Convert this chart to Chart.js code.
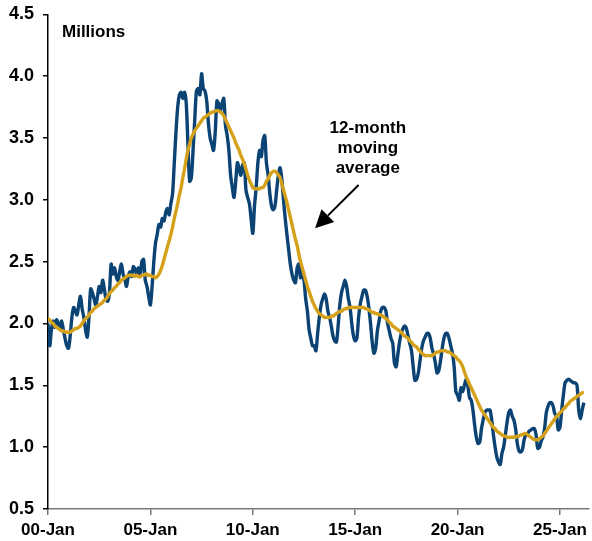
<!DOCTYPE html>
<html>
<head>
<meta charset="utf-8">
<script src="https://cdn.jsdelivr.net/npm/chart.js@4.4.0/dist/chart.umd.min.js"></script>
<style>
  html, body { margin: 0; padding: 0; background: #fff; }
  #wrap { width: 592px; height: 541px; position: relative; }
</style>
</head>
<body>
<div id="wrap"><canvas id="chart"></canvas></div>
<script>
// monthly values, millions, starting Jan 2000
const stock = [
  2.0, 1.82, 1.95, 2.02, 1.97, 2.03, 2.0, 1.96, 2.02, 1.95, 1.88, 1.82,
  1.8, 1.9, 2.05, 2.13, 2.1, 2.07, 2.15, 2.22, 2.12, 2.05, 1.95, 1.89,
  2.05, 2.28, 2.25, 2.2, 2.15, 2.22, 2.3, 2.25, 2.35, 2.28, 2.2, 2.18,
  2.25, 2.48, 2.4, 2.45, 2.38, 2.35, 2.42, 2.48, 2.4, 2.36, 2.3, 2.38,
  2.42, 2.38, 2.46, 2.44, 2.4, 2.45, 2.38, 2.5, 2.52, 2.35, 2.3, 2.22,
  2.15, 2.3, 2.5, 2.65, 2.72, 2.8, 2.78, 2.85, 2.83, 2.9, 2.93, 2.88,
  2.97, 3.05, 3.3, 3.55, 3.75, 3.85, 3.87, 3.82, 3.87, 3.78, 3.45, 3.15,
  3.18, 3.4, 3.65, 3.88, 3.9, 3.85, 4.02, 3.9, 3.88, 3.8, 3.62, 3.5,
  3.45, 3.4, 3.55, 3.8, 3.78, 3.72, 3.78, 3.82, 3.6, 3.52, 3.4, 3.2,
  3.1, 3.02, 3.15, 3.3, 3.25, 3.2, 3.28, 3.3, 3.08, 3.02, 2.97, 2.85,
  2.73, 2.95, 3.1, 3.3, 3.4, 3.35, 3.48, 3.52, 3.3, 3.2, 3.05, 2.95,
  2.92, 2.95, 3.08, 3.2, 3.26, 3.17, 3.0, 2.85, 2.72, 2.6, 2.48, 2.4,
  2.35, 2.33, 2.45, 2.48, 2.37, 2.42, 2.35, 2.2, 2.1, 1.95, 1.88, 1.82,
  1.82, 1.78, 1.92, 2.05, 2.15, 2.2, 2.24, 2.2, 2.1, 2.05, 1.98, 1.9,
  1.86, 1.85, 1.98, 2.15, 2.25, 2.3, 2.35, 2.3, 2.2, 2.13, 2.0, 1.9,
  1.86, 1.88, 2.05, 2.16, 2.22, 2.27, 2.27, 2.22, 2.13, 2.0, 1.85, 1.76,
  1.8, 1.94, 2.02, 2.1, 2.13, 2.13, 2.1, 2.0, 1.94, 1.88, 1.84, 1.68,
  1.65, 1.75, 1.85, 1.92, 1.96, 1.98, 1.96, 1.9, 1.84, 1.78, 1.65, 1.54,
  1.55, 1.6, 1.7, 1.8, 1.86, 1.89, 1.92, 1.92, 1.88, 1.8, 1.75, 1.68,
  1.6, 1.62, 1.7, 1.8, 1.88, 1.92, 1.92, 1.88, 1.82, 1.76, 1.65, 1.45,
  1.42, 1.38, 1.48, 1.45, 1.5, 1.55, 1.5, 1.4, 1.38, 1.3, 1.18, 1.08,
  1.03, 1.04, 1.15, 1.22, 1.28, 1.3, 1.3, 1.3, 1.22, 1.1, 1.0, 0.92,
  0.88, 0.86, 0.95, 1.0, 1.1, 1.2, 1.28, 1.3, 1.25, 1.22, 1.15, 1.03,
  0.97, 0.96, 0.98, 1.06, 1.1, 1.11, 1.13, 1.14, 1.15, 1.15, 1.1, 0.99,
  1.0, 1.05, 1.08, 1.15, 1.28, 1.33, 1.36, 1.36, 1.33, 1.27, 1.25, 1.14,
  1.16, 1.3, 1.42, 1.52, 1.54, 1.55, 1.54, 1.53, 1.52, 1.52, 1.5, 1.3,
  1.23, 1.3, 1.36
];

// 12-month moving average, same months
const avg12 = [
  2.04, 2.03, 2.01, 2.0, 1.98, 1.97, 1.96, 1.95, 1.94, 1.94, 1.93, 1.93,
  1.93, 1.93, 1.94, 1.95, 1.96, 1.96, 1.97, 1.98, 2.0, 2.02, 2.04, 2.05,
  2.07, 2.09, 2.1, 2.12, 2.13, 2.14, 2.15, 2.16, 2.17, 2.19, 2.2, 2.22,
  2.24, 2.26, 2.27, 2.29, 2.3, 2.32, 2.33, 2.35, 2.36, 2.37, 2.38, 2.39,
  2.39, 2.39, 2.39, 2.38, 2.39, 2.38, 2.38, 2.39, 2.39, 2.4, 2.4, 2.39,
  2.39, 2.38, 2.38, 2.37, 2.38, 2.4, 2.43, 2.47, 2.52, 2.57, 2.62, 2.67,
  2.72, 2.78, 2.85, 2.91, 2.97, 3.04, 3.1, 3.18, 3.25, 3.33, 3.4, 3.45,
  3.5, 3.53, 3.56, 3.58, 3.6, 3.62, 3.64, 3.66, 3.67, 3.68, 3.69, 3.7,
  3.71, 3.71, 3.72, 3.72, 3.72, 3.71, 3.7, 3.68, 3.65, 3.62, 3.59, 3.56,
  3.53, 3.5, 3.46, 3.43, 3.4, 3.36, 3.33, 3.29, 3.25, 3.2, 3.16, 3.13,
  3.1, 3.09, 3.09, 3.09, 3.09, 3.1, 3.1, 3.12, 3.15, 3.17, 3.2, 3.22,
  3.23, 3.23, 3.22, 3.2, 3.18, 3.13, 3.08, 3.03, 2.98, 2.92, 2.86, 2.8,
  2.74, 2.68, 2.63, 2.56, 2.5, 2.45, 2.4, 2.35, 2.3, 2.26, 2.22, 2.18,
  2.15, 2.12, 2.1, 2.08, 2.07, 2.06, 2.05, 2.05, 2.05, 2.05, 2.06, 2.06,
  2.07, 2.08, 2.09, 2.1, 2.1, 2.11, 2.12, 2.12, 2.13, 2.13, 2.13, 2.13,
  2.13, 2.13, 2.13, 2.13, 2.13, 2.13, 2.12, 2.12, 2.11, 2.1, 2.09, 2.09,
  2.08, 2.08, 2.07, 2.07, 2.06, 2.05, 2.04, 2.03, 2.01, 2.0, 1.98, 1.97,
  1.96, 1.95, 1.94, 1.93, 1.91, 1.9, 1.89, 1.88, 1.86, 1.85, 1.83, 1.82,
  1.81, 1.79, 1.78, 1.76, 1.75, 1.74, 1.74, 1.74, 1.74, 1.74, 1.75, 1.76,
  1.77, 1.77, 1.78, 1.78, 1.78, 1.78, 1.77, 1.77, 1.76, 1.75, 1.74, 1.73,
  1.71, 1.7, 1.68, 1.65, 1.61, 1.57, 1.54, 1.51, 1.48, 1.45, 1.42, 1.39,
  1.36, 1.33, 1.3, 1.28, 1.26, 1.24, 1.22, 1.2, 1.18, 1.16, 1.15, 1.13,
  1.12, 1.11, 1.1, 1.09, 1.09, 1.08, 1.08, 1.08, 1.08, 1.08, 1.08, 1.09,
  1.09, 1.1, 1.1, 1.11, 1.11, 1.1, 1.09, 1.08, 1.07, 1.06, 1.06, 1.06,
  1.07, 1.08, 1.09, 1.11, 1.13, 1.15, 1.17, 1.19, 1.21, 1.23, 1.25, 1.26,
  1.28, 1.29, 1.31, 1.32, 1.34, 1.35, 1.37, 1.38, 1.39, 1.4, 1.41, 1.42,
  1.43, 1.44, 1.44
];

const xTickMonths = [0, 60, 120, 180, 240, 300];
const xTickLabels = ['00-Jan', '05-Jan', '10-Jan', '15-Jan', '20-Jan', '25-Jan'];
const noteLines = ['12-month', 'moving', 'average'];

const FONT = 'Arial, "Liberation Sans", sans-serif';

// text + arrow drawn on top, placed with the scales
const notes = {
  id: 'notes',
  afterDatasetsDraw(chart) {
    const { ctx, chartArea, scales: { x, y } } = chart;
    ctx.save();
    ctx.fillStyle = '#000';
    ctx.font = 'bold 17px ' + FONT;
    ctx.textAlign = 'left';
    ctx.textBaseline = 'alphabetic';
    ctx.fillText('Millions', chartArea.left + 14, chartArea.top + 23);

    ctx.textAlign = 'center';
    const cx = x.getPixelForValue(187.4);
    const base = [3.54, 3.38, 3.22];
    noteLines.forEach((t, i) => ctx.fillText(t, cx, y.getPixelForValue(base[i])));

    // arrow
    const x1 = x.getPixelForValue(182), y1 = y.getPixelForValue(3.12);
    const x2 = x.getPixelForValue(156.5), y2 = y.getPixelForValue(2.77);
    const ang = Math.atan2(y2 - y1, x2 - x1);
    const hl = 18, hw = 9;
    const bx = x2 - hl * Math.cos(ang), by = y2 - hl * Math.sin(ang);
    ctx.strokeStyle = '#000';
    ctx.lineWidth = 2;
    ctx.beginPath();
    ctx.moveTo(x1, y1);
    ctx.lineTo(bx, by);
    ctx.stroke();
    ctx.beginPath();
    ctx.moveTo(x2, y2);
    ctx.lineTo(bx + hw * Math.sin(ang), by - hw * Math.cos(ang));
    ctx.lineTo(bx - hw * Math.sin(ang), by + hw * Math.cos(ang));
    ctx.closePath();
    ctx.fill();
    ctx.restore();
  }
};

const ctx = document.getElementById('chart').getContext('2d');
new Chart(ctx, {
  type: 'line',
  data: {
    datasets: [
      {
        label: '12-month moving average',
        data: avg12.map((v, i) => ({ x: i, y: v })),
        borderColor: '#D6A11A',
        borderWidth: 3.4,
        pointRadius: 0,
        tension: 0.4,
        fill: false
      },
      {
        label: 'Monthly',
        data: stock.map((v, i) => ({ x: i, y: v })),
        borderColor: '#0B4375',
        borderWidth: 3.4,
        pointRadius: 0,
        tension: 0.3,
        fill: false
      }
    ]
  },
  options: {
    responsive: true,
    maintainAspectRatio: false,
    animation: false,
    devicePixelRatio: 1,
    layout: { padding: { top: 14, right: 2, left: 0, bottom: 0 } },
    plugins: { legend: { display: false }, tooltip: { enabled: false } },
    scales: {
      x: {
        type: 'linear',
        min: 0,
        max: 317,
        afterBuildTicks: s => { s.ticks = xTickMonths.map(v => ({ value: v })); },
        afterFit: s => { s.height = 32; },
        ticks: {
          autoSkip: false,
          maxRotation: 0,
          padding: 5,
          color: '#000',
          font: { family: FONT, size: 17, weight: 'bold' },
          callback: v => xTickLabels[xTickMonths.indexOf(v)]
        },
        grid: { drawOnChartArea: false, drawTicks: true, tickLength: 6, color: '#777', lineWidth: 1.5 },
        border: { display: true, color: '#777', width: 1.5 }
      },
      y: {
        min: 0.5,
        max: 4.5,
        afterFit: s => { s.width = 48; },
        ticks: {
          stepSize: 0.5,
          padding: 9,
          color: '#000',
          font: { family: FONT, size: 18, weight: 'bold', lineHeight: 0.6 },
          callback: v => v.toFixed(1)
        },
        grid: { drawOnChartArea: false, drawTicks: true, tickLength: 5, color: '#000', lineWidth: 1.5 },
        border: { display: true, color: '#000', width: 1.5 }
      }
    }
  },
  plugins: [notes]
});
</script>
</body>
</html>
